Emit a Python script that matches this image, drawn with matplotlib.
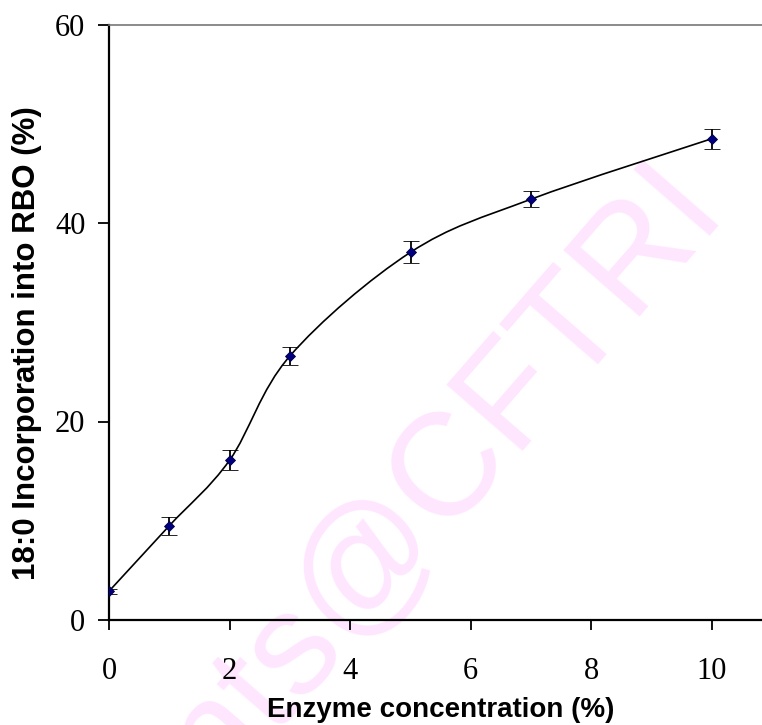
import numpy as np
import matplotlib
matplotlib.use("Agg")
import matplotlib.pyplot as plt
from matplotlib.path import Path
from matplotlib.patches import PathPatch

# data
enzyme = [0, 1, 2, 3, 5, 7, 10]
incorporation = [2.9, 9.5, 16.1, 26.6, 37.05, 42.4, 48.5]
err = [0.25, 0.9, 1.0, 0.9, 1.1, 0.8, 1.0]

x_ticks = [0, 2, 4, 6, 8, 10]
y_ticks = [0, 20, 40, 60]

fig = plt.figure(figsize=(7.62, 7.25), dpi=100)
ax = fig.add_axes([109 / 762, 1 - 620 / 725, 1 - 109 / 762, (620 - 24.5) / 725])
ax.patch.set_alpha(0)

# watermark (behind everything in the axes)
ax.text(727 / 762, 1 - 210 / 725, "eprints@CFTRI", color="#ffe6ff",
        fontsize=105, family="Liberation Sans", rotation=49,
        rotation_mode="anchor", ha="right", va="baseline", zorder=0,
        transform=fig.transFigure, clip_on=False)

# smoothed line (excel style catmull-rom bezier)
px = np.array(enzyme, dtype=float)
py = np.array(incorporation, dtype=float)
pts = np.column_stack([px, py])
ext = np.vstack([pts[0], pts, pts[-1]])
verts = [tuple(pts[0])]
codes = [Path.MOVETO]
for i in range(1, len(ext) - 2):
    p0, p1, p2, p3 = ext[i - 1], ext[i], ext[i + 1], ext[i + 2]
    c1 = p1 + (p2 - p0) / 6
    c2 = p2 - (p3 - p1) / 6
    verts += [tuple(c1), tuple(c2), tuple(p2)]
    codes += [Path.CURVE4] * 3
ax.add_patch(PathPatch(Path(verts, codes), facecolor="none", edgecolor="black",
                       lw=1.2, zorder=3))

ax.errorbar(enzyme, incorporation, yerr=err, fmt="D", color="#000080",
            markersize=5, markeredgecolor="#000040", markeredgewidth=0.6,
            ecolor="black", elinewidth=1.3, capsize=6, capthick=1.3, zorder=4)

ax.set_xlim(0, (762 - 109) / 60.3)
ax.set_ylim(0, 60)
ax.set_xticks(x_ticks)
ax.set_yticks(y_ticks)
ax.set_xticklabels([str(t) for t in x_ticks], family="Liberation Serif", fontsize=22)
ax.set_yticklabels([str(t) for t in y_ticks], family="Liberation Serif", fontsize=22)
ax.tick_params(axis="x", direction="out", length=7.5, width=1.3, pad=19)
ax.tick_params(axis="y", direction="out", length=8, width=1.3, pad=9)

ax.spines["right"].set_visible(False)
ax.spines["top"].set_color("#777777")
ax.spines["top"].set_linewidth(1.2)
ax.spines["left"].set_linewidth(1.6)
ax.spines["bottom"].set_linewidth(1.6)

ax.set_xlabel("Enzyme concentration (%)", family="Liberation Sans",
              fontweight="bold", fontsize=20)
ax.set_ylabel("18:0 Incorporation into RBO (%)", family="Liberation Sans",
              fontweight="bold", fontsize=22.5)
ax.xaxis.set_label_coords((441 - 109) / 653, -(710 - 620) / 595.5)
ax.yaxis.set_label_coords(-(109 - 27) / 653, (620 - 343) / 595.5)
ax.xaxis.label.set_va("center")
ax.yaxis.label.set_va("center")

fig.savefig("out.png", dpi=100)
